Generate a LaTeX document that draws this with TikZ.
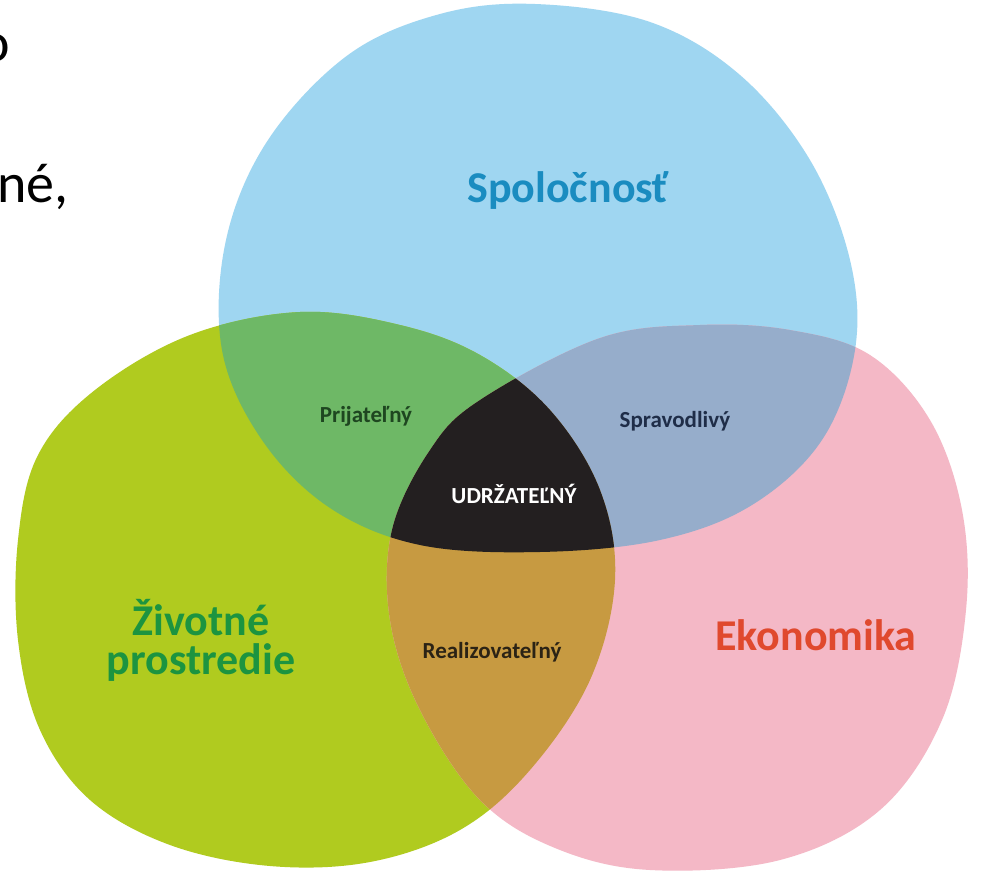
\documentclass[tikz,border=0pt]{standalone}
\usepackage{fontspec}
\setmainfont{Carlito}
\definecolor{cblue}{HTML}{9FD6F1}
\definecolor{cgreen}{HTML}{B0CB1F}
\definecolor{cpink}{HTML}{F4B8C6}
\definecolor{cbg}{HTML}{6EB866}
\definecolor{cbp}{HTML}{96ADCB}
\definecolor{cgp}{HTML}{C79A41}
\definecolor{cblack}{HTML}{231F20}
\definecolor{tblue}{HTML}{1A8CC0}
\definecolor{tgreen}{HTML}{1C9440}
\definecolor{tred}{HTML}{E0492E}
\definecolor{tdgreen}{HTML}{1E4620}
\definecolor{tnavy}{HTML}{1F2D48}
\definecolor{tbrown}{HTML}{2B2315}
\def\bluepath{plot[smooth cycle, tension=0.6] coordinates {(535,4) (650,22) (740,75) (810,160) (850,260) (855,350) (822,440) (752,505) (660,540) (540,552) (420,545) (330,508) (262,440) (222,350) (226,240) (268,140) (348,55) (440,14)}}
\def\greenpath{plot[smooth cycle, tension=0.6] coordinates {(300,312) (400,325) (480,355) (550,410) (600,490) (615,580) (590,680) (530,770) (460,830) (370,862) (270,866) (170,845) (90,800) (40,730) (18,640) (18,540) (38,455) (95,390) (190,335)}}
\def\pinkpath{plot[smooth cycle, tension=0.6] coordinates {(600,338) (700,325) (790,330) (870,355) (930,420) (962,510) (966,610) (942,720) (880,810) (780,860) (650,870) (555,848) (480,800) (420,710) (390,620) (392,530) (430,450) (480,400)}}
\tikzset{
  bigl/.style={font=\fontsize{44}{39}\selectfont\bfseries, anchor=base, inner sep=0pt},
  smalll/.style={font=\fontsize{23}{27}\selectfont\bfseries, anchor=base, inner sep=0pt},
  slide/.style={font=\fontsize{56}{64}\selectfont, anchor=base west, text=black, inner sep=0pt}
}
\begin{document}
\begin{tikzpicture}[x=1pt, y=-1pt]
\useasboundingbox[fill=white] (0,0) rectangle (983,872);
\fill[cblue] \bluepath;
\fill[cgreen] \greenpath;
\fill[cpink] \pinkpath;
\begin{scope}
  \clip \bluepath;
  \fill[cbg] \greenpath;
  \fill[cbp] \pinkpath;
\end{scope}
\begin{scope}
  \clip \greenpath;
  \fill[cgp] \pinkpath;
\end{scope}
\begin{scope}
  \clip \bluepath;
  \clip \greenpath;
  \fill[cblack] \pinkpath;
\end{scope}
\node[slide] (t1) at (-20,62) {o};
\node[slide] (t2) at (-3,202) {né,};
\node[bigl, text=tblue] (spol) at (568,203) {Spoločnosť};
\node[bigl, text=tgreen, align=center, anchor=center] (ziv) at (201,640) {Životné\\prostredie};
\node[bigl, text=tred] (eko) at (816,650) {Ekonomika};
\node[smalll, text=tdgreen] (prij) at (366,422) {Prijateľný};
\node[smalll, text=tnavy] (sprav) at (675,427) {Spravodlivý};
\node[smalll, text=white] (udr) at (514,503) {UDRŽATEĽNÝ};
\node[smalll, text=tbrown] (real) at (492,658) {Realizovateľný};
\end{tikzpicture}
\end{document}
